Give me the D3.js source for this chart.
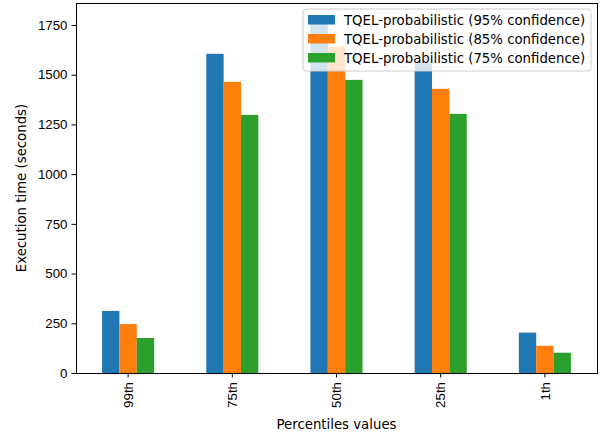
<!DOCTYPE html>
<html>
<head>
<meta charset="utf-8">
<script src="https://cdn.jsdelivr.net/npm/d3@7"></script>
<style>
  body { margin: 0; background: #fff; }
  svg { display: block; font-family: "DejaVu Sans", sans-serif; }
</style>
</head>
<body>
<svg id="chart" width="601" height="436"></svg>
<script>
// Percentile categories and execution times (seconds) per confidence level
const categories = ["99th", "75th", "50th", "25th", "1th"];
const seriesNames = [
  "TQEL-probabilistic (95% confidence)",
  "TQEL-probabilistic (85% confidence)",
  "TQEL-probabilistic (75% confidence)"
];
const conf95 = [312, 1605, 1772, 1558, 203];
const conf85 = [246, 1464, 1641, 1429, 137];
const conf75 = [176, 1298, 1474, 1303, 102];
const yTicks = [0, 250, 500, 750, 1000, 1250, 1500, 1750];
const colors = ["#1f77b4", "#ff7f0e", "#2ca02c"];

const series = [conf95, conf85, conf75];
const FS = 13.3;

const svg = d3.select("#chart");
const margin = { left: 76, right: 4, top: 3, bottom: 63 };
const W = 601, H = 436;
const plotW = W - margin.left - margin.right;
const plotH = H - margin.top - margin.bottom;

const maxVal = d3.max(series.flat());
const y = d3.scaleLinear().domain([0, maxVal * 1.05]).range([plotH, 0]);

// category slots spanning the full width (xlim -0.5 .. n-0.5)
const x = d3.scaleBand().domain(categories).range([0, plotW]).paddingInner(0).paddingOuter(0);
const groupW = x.bandwidth() * 0.5;
const xs = d3.scaleBand().domain(d3.range(series.length)).range([-groupW / 2, groupW / 2]);

const g = svg.append("g").attr("transform", `translate(${margin.left},${margin.top})`);

// bars
series.forEach((vals, si) => {
  g.selectAll(null)
    .data(vals)
    .enter()
    .append("rect")
    .attr("x", (d, i) => x(categories[i]) + x.bandwidth() / 2 + xs(si))
    .attr("width", xs.bandwidth())
    .attr("y", d => y(d))
    .attr("height", d => plotH - y(d))
    .attr("fill", colors[si]);
});

// axes
const yAxis = d3.axisLeft(y).tickValues(yTicks).tickFormat(d3.format("d")).tickSize(4.5).tickPadding(4);
const yg = g.append("g").call(yAxis);
yg.select(".domain").remove();
yg.selectAll("text").attr("font-size", FS).attr("fill", "#000");
yg.selectAll("line").attr("stroke", "#000").attr("stroke-width", 1);

const xAxis = d3.axisBottom(x).tickSize(4.5).tickPadding(4);
const xg = g.append("g").attr("transform", `translate(0,${plotH})`).call(xAxis);
xg.select(".domain").remove();
xg.selectAll("line").attr("stroke", "#000").attr("stroke-width", 1);
xg.selectAll("text")
  .attr("font-size", FS)
  .attr("fill", "#000")
  .attr("transform", "rotate(-90)")
  .attr("text-anchor", "end")
  .attr("x", -9)
  .attr("y", 0)
  .attr("dy", "0.35em");

// frame
g.append("rect")
  .attr("x", 0).attr("y", 0)
  .attr("width", plotW).attr("height", plotH)
  .attr("fill", "none")
  .attr("stroke", "#000")
  .attr("stroke-width", 1)
  .attr("shape-rendering", "crispEdges");

// axis titles
svg.append("text")
  .attr("transform", `translate(25.5,${margin.top + plotH / 2}) rotate(-90)`)
  .attr("text-anchor", "middle")
  .attr("font-size", FS)
  .text("Execution time (seconds)");

svg.append("text")
  .attr("x", margin.left + plotW / 2)
  .attr("y", 429)
  .attr("text-anchor", "middle")
  .attr("font-size", FS)
  .text("Percentiles values");

// legend
const lg = svg.append("g").attr("transform", "translate(303,9)");
lg.append("rect")
  .attr("width", 288).attr("height", 62)
  .attr("rx", 3).attr("ry", 3)
  .attr("fill", "#fff").attr("fill-opacity", 0.8)
  .attr("stroke", "#ccc").attr("stroke-width", 1);
seriesNames.forEach((name, i) => {
  const row = lg.append("g").attr("transform", `translate(0,${6 + i * 19})`);
  row.append("rect")
    .attr("x", 5).attr("y", 0)
    .attr("width", 27).attr("height", 9.5)
    .attr("fill", colors[i]);
  row.append("text")
    .attr("x", 41).attr("y", 5)
    .attr("dy", "0.35em")
    .attr("font-size", FS)
    .text(name);
});
</script>
</body>
</html>
